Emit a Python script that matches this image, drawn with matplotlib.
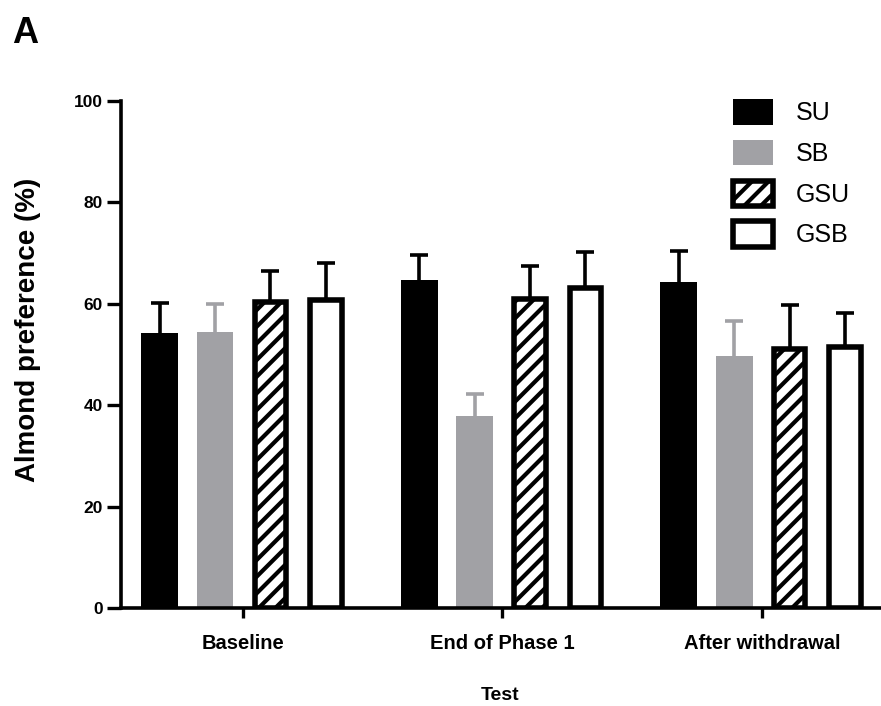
import numpy as np
import matplotlib.pyplot as plt
from matplotlib.patches import Patch

plt.rcParams['font.family'] = ['Liberation Sans', 'DejaVu Sans']
plt.rcParams['hatch.linewidth'] = 3.0

# Daten
tests = ["Baseline", "End of Phase 1", "After withdrawal"]
groups = ["SU", "SB", "GSU", "GSB"]
means = {
    "SU":  [54.2, 64.7, 64.3],
    "SB":  [54.5, 37.9, 49.7],
    "GSU": [60.3, 61.0, 51.0],
    "GSB": [60.8, 63.2, 51.4],
}
sems = {
    "SU":  [6.0, 4.9, 6.1],
    "SB":  [5.5, 4.3, 6.9],
    "GSU": [6.2, 6.5, 8.8],
    "GSB": [7.2, 7.0, 6.8],
}

gray = '#a1a1a5'
styles = {
    "SU":  dict(color='black', edgecolor='black', linewidth=0, hatch=None),
    "SB":  dict(color=gray, edgecolor=gray, linewidth=0, hatch=None),
    "GSU": dict(color='white', edgecolor='black', linewidth=4.0, hatch='//'),
    "GSB": dict(color='white', edgecolor='black', linewidth=4.0, hatch=None),
}
err_colors = {"SU": 'black', "SB": gray, "GSU": 'black', "GSB": 'black'}

fig = plt.figure(figsize=(8.81, 7.06), dpi=100)
ax = fig.add_axes([121 / 881, 1 - 608 / 706, 759 / 881, 507 / 706])

x = np.arange(len(tests))
step = 0.2135
full_w = 0.142
for i, g in enumerate(groups):
    st = styles[g]
    w = full_w - (5.5 / 260 if st['linewidth'] > 0 else 0)
    pos = x + (i - 1.5) * step
    ax.bar(pos, means[g], width=w, color=st['color'], edgecolor=st['edgecolor'],
           linewidth=st['linewidth'], hatch=st['hatch'], zorder=2, label=g)
    eb = ax.errorbar(pos, means[g], yerr=[np.zeros(3), sems[g]], fmt='none',
                     ecolor=err_colors[g], elinewidth=2.6, capsize=6.5, capthick=2.6,
                     zorder=1)
    # untere Kappen (auf Balkenhoehe) ausblenden
    for cap in eb[1]:
        if np.allclose(cap.get_ydata(), means[g]):
            cap.set_visible(False)

ax.set_ylim(0, 100)
ax.set_xlim(-0.469, 2.455)
ax.set_yticks([0, 20, 40, 60, 80, 100])
ax.set_xticks(x)
ax.set_xticklabels(tests)

for side in ['top', 'right']:
    ax.spines[side].set_visible(False)
for side in ['left', 'bottom']:
    ax.spines[side].set_linewidth(2.6)

ax.tick_params(axis='y', length=10, width=2.4, pad=3, labelsize=12.5)
ax.tick_params(axis='x', length=7, width=2.4, pad=12, labelsize=14.5)
for lab in ax.get_xticklabels() + ax.get_yticklabels():
    lab.set_fontweight('bold')

ax.set_ylabel('Almond preference (%)', fontsize=20, fontweight='bold')
ax.yaxis.set_label_coords(-0.106, 0.548)
ax.set_xlabel('Test', fontsize=14, fontweight='bold')
ax.xaxis.set_label_coords(0.5, -0.155)

fig.text(12 / 881, 1 - 43 / 706, 'A', fontsize=26, fontweight='bold')

handles = [Patch(facecolor=styles[g]['color'], edgecolor=styles[g]['edgecolor'],
                 linewidth=styles[g]['linewidth'], hatch=styles[g]['hatch'])
           for g in groups]
ax.legend(handles, groups, loc='upper left', bbox_to_anchor=(733 / 881, 1 - 99 / 706),
          bbox_transform=fig.transFigure, frameon=False, fontsize=18,
          borderpad=0, borderaxespad=0, handlelength=1.6, handleheight=1.2,
          labelspacing=0.58, handletextpad=0.9)

fig.savefig('out.png', dpi=100)
